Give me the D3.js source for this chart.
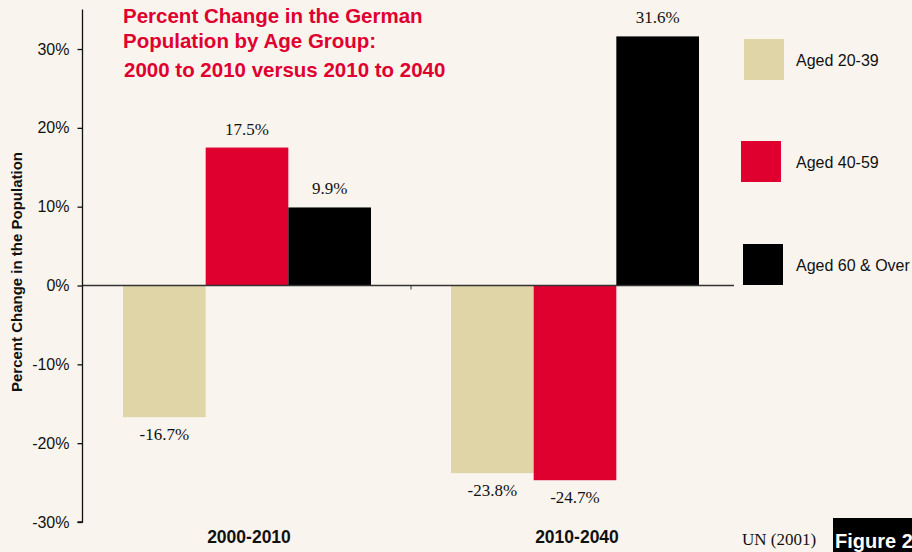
<!DOCTYPE html>
<html><head><meta charset="utf-8">
<script src="https://cdn.jsdelivr.net/npm/d3@7"></script>
<style>html,body{margin:0;padding:0;background:#f9f5ee;overflow:hidden}</style>
</head><body><svg id="c" width="912" height="552"></svg>
<script>
const categories = ["2000-2010", "2010-2040"];
const seriesNames = ["Aged 20-39", "Aged 40-59", "Aged 60 & Over"];
const seriesColors = ["#e0d5a6", "#e00030", "#000000"];
const aged20_39 = [-16.7, -23.8];
const aged40_59 = [17.5, -24.7];
const aged60plus = [9.9, 31.6];
const yTicks = [-30, -20, -10, 0, 10, 20, 30];
const titleLines = ["Percent Change in the German", "Population by Age Group:", "2000 to 2010 versus 2010 to 2040"];

const values = [aged20_39, aged40_59, aged60plus];
const sans = "Liberation Sans, Arial, Helvetica, sans-serif";
const serif = "Liberation Serif, Times New Roman, serif";
const svg = d3.select("#c");
svg.append("rect").attr("width",912).attr("height",552).attr("fill","#f9f5ee");

const y = d3.scaleLinear().domain([-30, 35]).range([522, 9.6]);
const x0 = d3.scaleBand().domain(categories).range([83, 739]).paddingInner(0).paddingOuter(0);
const x1 = d3.scaleBand().domain(seriesNames).range([0, x0.bandwidth()]).paddingInner(0).paddingOuter(0.484);

// bars
categories.forEach((c, ci) => {
  seriesNames.forEach((s, si) => {
    const v = values[si][ci];
    const bx = x0(c) + x1(s);
    svg.append("rect")
      .attr("x", bx).attr("width", x1.bandwidth())
      .attr("y", y(Math.max(0, v))).attr("height", Math.abs(y(v) - y(0)))
      .attr("fill", seriesColors[si]);
    svg.append("text")
      .attr("x", bx + x1.bandwidth()/2)
      .attr("y", v >= 0 ? y(v) - 13 : y(v) + 23)
      .attr("text-anchor", "middle")
      .attr("font-family", serif)
      .attr("font-size", 17).attr("fill", "#111")
      .text(v.toFixed(1) + "%");
  });
});

// y axis
const yAxis = d3.axisLeft(y).tickValues(yTicks).tickSize(5).tickPadding(8).tickFormat(d => d + "%");
const ga = svg.append("g").attr("transform", "translate(82.5,0)").call(yAxis);
ga.select(".domain").attr("d", `M-5,${y(-30)}H0V${y(35)}`).attr("stroke", "#111").attr("stroke-width", 1.3);
ga.selectAll(".tick line").attr("stroke", "#111").attr("stroke-width", 1.3);
ga.selectAll(".tick text").attr("font-family", sans).attr("font-size", 16).attr("fill", "#111");

// zero line
svg.append("line").attr("x1", 83).attr("x2", 734).attr("y1", y(0)).attr("y2", y(0))
  .attr("stroke", "#333").attr("stroke-width", 1.5);
// category separator tick
svg.append("line").attr("x1", x0("2010-2040")).attr("x2", x0("2010-2040"))
  .attr("y1", y(0)).attr("y2", y(0) + 4).attr("stroke", "#333").attr("stroke-width", 1);

// category labels
categories.forEach(c => {
  svg.append("text").attr("x", x0(c) + x0.bandwidth()/2 + 2).attr("y", 543)
    .attr("text-anchor", "middle").attr("font-family", sans)
    .attr("font-weight", "bold").attr("font-size", 17.5).attr("fill", "#111").text(c);
});

// y title
svg.append("text").attr("transform", "translate(22,272) rotate(-90)")
  .attr("text-anchor", "middle").attr("font-family", sans)
  .attr("font-weight", "bold").attr("font-size", 15).attr("fill", "#111")
  .text("Percent Change in the Population");

// title
const tb = [23, 48, 77];
titleLines.forEach((t, i) => {
  svg.append("text").attr("x", i === 2 ? 124 : 123).attr("y", tb[i])
    .attr("font-family", sans).attr("font-weight", "bold")
    .attr("font-size", 20.5).attr("fill", "#e00030").text(t);
});

// legend
const legX = [744, 741, 743];
const legY = [39, 141, 244];
seriesNames.forEach((s, i) => {
  svg.append("rect").attr("x", legX[i]).attr("y", legY[i]).attr("width", 40).attr("height", 41).attr("fill", seriesColors[i]);
  svg.append("text").attr("x", 796).attr("y", legY[i] + 27)
    .attr("font-family", sans).attr("font-size", 16).attr("fill", "#111").text(s);
});

// source
svg.append("text").attr("x", 742).attr("y", 545).attr("font-family", serif)
  .attr("font-size", 17).attr("fill", "#111").text("UN (2001)");
svg.append("rect").attr("x", 833).attr("y", 518).attr("width", 80).attr("height", 34).attr("fill", "#000");
svg.append("text").attr("x", 835).attr("y", 548).attr("font-family", sans)
  .attr("font-weight", "bold").attr("font-size", 20).attr("fill", "#fff").text("Figure 2");
</script></body></html>
